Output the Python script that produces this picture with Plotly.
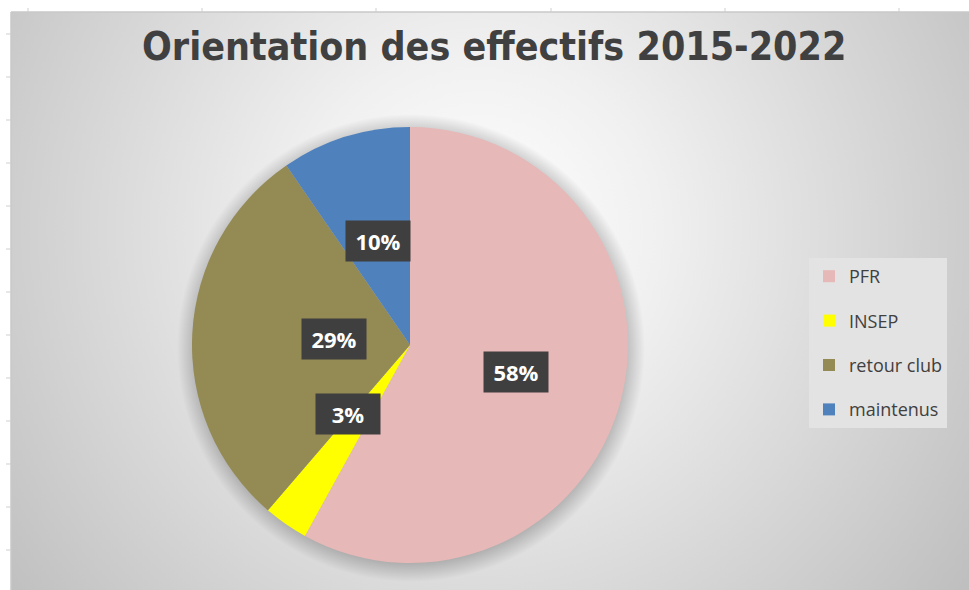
import base64
import math
import plotly.graph_objects as go

# ---- data ----
categories = ["PFR", "INSEP", "retour club", "maintenus"]
values = [58.0, 3.3, 29.1, 9.6]
colors = ["#e6b8b7", "#ffff00", "#948a54", "#4f81bd"]
title_text = "Orientation des effectifs 2015-2022"

# ---- layout geometry (pixels) ----
W, H = 969, 590
cx, cy, R = 410, 345, 218

# background: radial gradient, pie shadow and sheet tick marks, drawn as svg
ticks = []
for x in [28, 202, 376, 551, 725, 899]:
    ticks.append(f'<line x1="{x}" y1="8" x2="{x}" y2="12" stroke="#cfcfcf" stroke-width="1"/>')
y = 34.0
while y < H:
    ticks.append(f'<line x1="6" y1="{y:.0f}" x2="11" y2="{y:.0f}" stroke="#cfcfcf" stroke-width="1"/>')
    y += 43.0
rs = R + 16
svg = f'''<svg xmlns="http://www.w3.org/2000/svg" width="{W}" height="{H}" viewBox="0 0 {W} {H}" preserveAspectRatio="none">
<defs>
<radialGradient id="g" cx="480" cy="230" r="600" gradientUnits="userSpaceOnUse">
<stop offset="0" stop-color="#ffffff"/><stop offset="0.3" stop-color="#f0f0f0"/><stop offset="1" stop-color="#bfbfbf"/></radialGradient>
<radialGradient id="s" cx="{cx+1}" cy="{cy+3}" r="{rs}" gradientUnits="userSpaceOnUse">
<stop offset="{(R-4)/rs:.3f}" stop-color="#000" stop-opacity="0.22"/><stop offset="1" stop-color="#000" stop-opacity="0"/></radialGradient>
</defs>
<rect x="0" y="0" width="{W}" height="{H}" fill="#ffffff"/>
<rect x="11" y="12" width="{W-11}" height="{H-12}" fill="url(#g)"/>
<circle cx="{cx+1}" cy="{cy+3}" r="{rs}" fill="url(#s)"/>
<line x1="11" y1="12" x2="{W}" y2="12" stroke="#c8c8c8" stroke-width="1.5"/>
<line x1="11" y1="12" x2="11" y2="{H}" stroke="#c8c8c8" stroke-width="1.5"/>
{''.join(ticks)}
</svg>'''
bg_uri = "data:image/svg+xml;base64," + base64.b64encode(svg.encode()).decode()

fig = go.Figure()
fig.add_trace(go.Pie(
    labels=categories, values=values, sort=False, direction="clockwise", rotation=0,
    marker=dict(colors=colors, line=dict(width=0)),
    textinfo="none", hoverinfo="label+percent", showlegend=False,
    domain=dict(x=[(cx - R) / W, (cx + R) / W], y=[1 - (cy + R) / H, 1 - (cy - R) / H]),
))

# legend entries (square swatches)
for name, col in zip(categories, colors):
    fig.add_trace(go.Scatter(x=[None], y=[None], mode="markers", name=name, legendgroup=name,
                             marker=dict(symbol="square", size=13, color=col)))

# data labels: dark boxes at half radius along each slice bisector
total = sum(values)
cum = 0.0
annotations = []
for v in values:
    theta = 2 * math.pi * (cum + v / 2) / total
    cum += v
    px = cx + 0.5 * R * math.sin(theta)
    py = cy - 0.5 * R * math.cos(theta)
    annotations.append(dict(
        x=px / W, y=1 - py / H, xref="paper", yref="paper", showarrow=False,
        text=f"<b>{round(v / total * 100)}%</b>",
        font=dict(family="Open Sans", size=22, color="#ffffff"),
        bgcolor="#3f3f3f", borderpad=7, width=50, height=26,
    ))

annotations.append(dict(
    x=494 / W, y=1 - 47 / H, xref="paper", yref="paper", showarrow=False,
    text=f"<b>{title_text}</b>", xanchor="center", yanchor="middle",
    font=dict(family="DejaVu Sans Condensed", size=39, color="#404040"),
))

fig.update_layout(
    width=W, height=H,
    margin=dict(l=0, r=0, t=0, b=0),
    paper_bgcolor="rgba(0,0,0,0)", plot_bgcolor="rgba(0,0,0,0)",
    xaxis=dict(visible=False), yaxis=dict(visible=False),
    images=[dict(source=bg_uri, xref="paper", yref="paper", x=0, y=1, sizex=1, sizey=1,
                 xanchor="left", yanchor="top", sizing="stretch", layer="below")],
    annotations=annotations,
    showlegend=True,
    legend=dict(x=809 / W, y=1 - 258 / H, xanchor="left", yanchor="top",
                bgcolor="#e3e3e3", font=dict(family="Open Sans", size=18, color="#404040"),
                tracegroupgap=18, borderwidth=0, itemsizing="constant"),
    hovermode=False,
)

fig.write_html("out.html", config={"displayModeBar": False},
               post_script="document.body.style.margin='0';document.body.style.overflow='hidden';")
